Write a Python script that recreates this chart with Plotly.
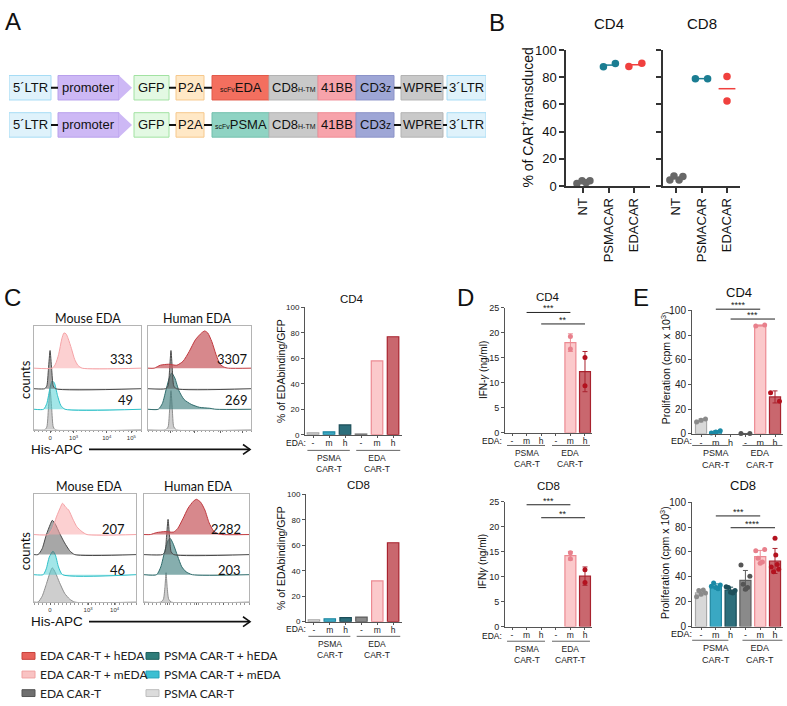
import statistics
import plotly.graph_objects as go

W, H = 787, 706

# ===================== DATA =====================
# Panel A - vector constructs
construct_rows = ["EDA", "PSMA"]
construct_parts = [
    ["5´LTR", "promoter", "GFP", "P2A", "scFv|EDA", "CD8|H-TM", "41BB", "CD3|z", "WPRE", "3´LTR"],
    ["5´LTR", "promoter", "GFP", "P2A", "scFv|PSMA", "CD8|H-TM", "41BB", "CD3|z", "WPRE", "3´LTR"],
]
part_lengths = [42, 61, 35, 28, 57, 49, 38, 38, 42, 39]

# Panel B - % CAR+ / transduced
b_groups = ["NT", "PSMACAR", "EDACAR"]
b_cd4 = [[2.0, 4.0, 2.5, 4.0], [87.8, 90.1], [88.0, 90.4]]
b_cd8 = [[4.5, 7.4, 4.5, 7.0], [79.0, 79.0], [80.6, 62.6]]

# Panel C - flow histograms: (channel 0-100, counts)
hist_cd4_mouse = {
    "EDA CAR-T + mEDA": ([17, 20, 23, 26, 28, 30, 32, 35, 38, 41, 45], [0, 4, 14, 30, 36, 35, 30, 20, 9, 3, 0]),
    "EDA CAR-T": ([10, 12, 13.5, 15, 16.5, 18, 20], [0, 3, 20, 39, 20, 3, 0]),
    "PSMA CAR-T + mEDA": ([9, 12, 15, 17, 19, 22, 25, 29], [0, 6, 22, 29, 27, 14, 4, 0]),
    "PSMA CAR-T": ([10, 12, 13.5, 15, 16.5, 18, 20], [0, 3, 22, 42, 22, 3, 0]),
}
hist_cd4_human = {
    "EDA CAR-T + hEDA": ([6, 12, 20, 28, 34, 40, 46, 52, 55, 58, 62, 66, 70, 74, 78],
                         [0, 3, 4, 3, 7, 17, 29, 36, 38, 36, 27, 14, 4, 1, 0]),
    "EDA CAR-T": ([17, 19.5, 21, 22.3, 23.6, 25, 27.5], [0, 3, 20, 39, 20, 3, 0]),
    "PSMA CAR-T + hEDA": ([10, 14, 18, 21, 23, 26, 30, 35, 42, 50, 60, 66],
                          [0, 6, 22, 33, 37, 32, 19, 10, 5, 2, 1, 0]),
    "PSMA CAR-T": ([17, 19.5, 21, 22.3, 23.6, 25, 27.5], [0, 3, 21, 40, 21, 3, 0]),
}
hist_cd8_mouse = {
    "EDA CAR-T + mEDA": ([14, 18, 22, 26, 28, 31, 34, 38, 42, 47, 52], [0, 6, 18, 28, 32, 28, 25, 16, 8, 3, 0]),
    "EDA CAR-T": ([4, 8, 12, 16, 18, 21, 25, 30, 35, 40], [0, 6, 20, 31, 35, 31, 22, 12, 4, 0]),
    "PSMA CAR-T + mEDA": ([9, 12, 15, 18.6, 21, 24, 28], [0, 6, 18, 24, 20, 8, 0]),
    "PSMA CAR-T": ([4, 8, 12, 16, 18, 21, 25, 30, 35, 40], [0, 6, 18, 31, 35, 30, 20, 9, 3, 0]),
}
hist_cd8_human = {
    "EDA CAR-T + hEDA": ([6, 12, 20, 28, 32, 37, 42, 47, 50, 54, 58, 62, 66, 70, 74],
                         [0, 2, 3, 2.5, 6, 16, 27, 34, 36, 33, 25, 12, 4, 1, 0]),
    "EDA CAR-T": ([17.5, 20, 21.5, 22.9, 24.3, 25.8, 28.3], [0, 3, 19, 36, 19, 3, 0]),
    "PSMA CAR-T + hEDA": ([12, 16, 20, 23, 25, 28, 32, 36, 40, 46], [0, 8, 25, 35, 37, 31, 19, 8, 3, 0]),
    "PSMA CAR-T": ([16, 18.5, 20, 21, 22, 23.5, 26], [0, 3, 16, 30, 16, 3, 0]),
}
mfi_cd4_mouse = ["333", "49"]
mfi_cd4_human = ["3307", "269"]
mfi_cd8_mouse = ["207", "46"]
mfi_cd8_human = ["2282", "203"]

# Panel C - bars (% of EDA binding / GFP)
cond_names = ["PSMA CAR-T", "PSMA CAR-T + mEDA", "PSMA CAR-T + hEDA",
              "EDA CAR-T", "EDA CAR-T + mEDA", "EDA CAR-T + hEDA"]
eda_ticks = ["-", "m", "h", "-", "m", "h"]
c_cd4 = [1.5, 2.3, 7.7, 0.4, 58.0, 77.0]
c_cd8 = [1.5, 2.3, 3.1, 3.6, 32.0, 62.0]

# Legend layout (two columns, as in the figure)
legend_col1 = ["EDA CAR-T + hEDA", "EDA CAR-T + mEDA", "EDA CAR-T"]
legend_col2 = ["PSMA CAR-T + hEDA", "PSMA CAR-T + mEDA", "PSMA CAR-T"]

# Panel D - IFN-gamma (ng/ml), replicate values
d_cd4 = [[], [], [], [], [19.3, 16.8], [15.1, 9.4]]
d_cd8 = [[], [], [], [], [14.8, 13.6], [11.4, 8.8]]
d_sig_cd4 = [(1, 4, "***", 24.1), (2, 5, "**", 21.8)]
d_sig_cd8 = [(1, 4, "***", 24.4), (2, 5, "**", 21.8)]

# Panel E - proliferation (cpm x 10^3), replicate values
e_cd4 = [[9.5, 11.0, 12.0], [0.5, 1.5, 2.5], [], [0.2, 0.2], [87.4, 88.1], [33.3, 26.4]]
e_cd8 = [[24, 27, 29, 29.5, 26], [32.5, 33.5, 35, 30.5, 31.5], [32, 29, 31.5, 27, 27.5],
         [49.5, 40.5, 34, 31.5, 30], [61, 62, 55, 52, 51], [71, 57.5, 48, 46, 44, 50]]
e_sig_cd4 = [(1, 4, "****", 101.0), (2, 5, "***", 93.0)]
e_sig_cd8 = [(1, 4, "***", 89.0), (2, 5, "****", 79.5)]

# ===================== STYLE / HELPERS =====================
ARIAL = "Liberation Sans"
CAL = "Lato"
AX = "#555555"

PART_FILL = ["#dff2fb", "#cdb8f5", "#e3f9e3", "#ffe8c6", None, "#c9c9c9", "#f7a3ab", "#9ea6d6", "#c9c9c9", "#dff2fb"]
PART_LINE = ["#a6dcf5", "#b8a0ec", "#a2e2a2", "#f6c88c", None, "#b3b3b3", "#ef8d97", "#8c93c8", "#b3b3b3", "#a6dcf5"]
SCFV_STYLE = {"EDA": ("#f36f5f", "#e25a4a"), "PSMA": ("#8fd3c3", "#72c0ad")}

COND_STYLE = {  # fill, border, points
    "PSMA CAR-T": ("#d8d8d8", "#a8a8a8", "#8a8a8a"),
    "PSMA CAR-T + mEDA": ("#3aa8c3", "#1e86a0", "#1a8aa6"),
    "PSMA CAR-T + hEDA": ("#2d6e7b", "#1b4d58", "#1e4f5a"),
    "EDA CAR-T": ("#8a8a8a", "#5e5e5e", "#555555"),
    "EDA CAR-T + mEDA": ("#fbc9cb", "#ec8a92", "#e8808c"),
    "EDA CAR-T + hEDA": ("#c9676e", "#a8222e", "#b3121f"),
}
LEGEND_STYLE = {  # swatch fill, border
    "EDA CAR-T + hEDA": ("#e8625b", "#c8423c"),
    "EDA CAR-T + mEDA": ("#f9c3c3", "#f0a0a0"),
    "EDA CAR-T": ("#6f6f6f", "#555555"),
    "PSMA CAR-T + hEDA": ("#2f7d7a", "#1f5f5c"),
    "PSMA CAR-T + mEDA": ("#3cbfd2", "#22a3b8"),
    "PSMA CAR-T": ("#dcdcdc", "#bdbdbd"),
}
HIST_STYLE = {
    "EDA CAR-T + mEDA": ("rgba(250,170,172,0.55)", "#f5a3a7"),
    "EDA CAR-T + hEDA": ("rgba(200,90,95,0.72)", "#c0393f"),
    "EDA CAR-T": ("rgba(95,95,95,0.55)", "#4a4a4a"),
    "PSMA CAR-T + mEDA": ("rgba(70,205,210,0.5)", "#2fc0c8"),
    "PSMA CAR-T + hEDA": ("rgba(60,125,125,0.62)", "#2f6c6c"),
    "PSMA CAR-T": ("rgba(165,165,165,0.55)", "#8e8e8e"),
}
B_COL = ["#676767", "#1b7d92", "#f0403e"]

fig = go.Figure()
L = {}
annotations = []
shapes = []


def px(x):
    return x / W


def py(y):
    return 1 - y / H


def make_axes(n, x0, x1, y0, y1, xr, yr, xkw=None, ykw=None):
    sfx = "" if n == 1 else str(n)
    xa = dict(domain=[px(x0), px(x1)], range=xr, anchor="y" + sfx, showgrid=False, zeroline=False)
    ya = dict(domain=[py(y1), py(y0)], range=yr, anchor="x" + sfx, showgrid=False, zeroline=False)
    xa.update(xkw or {})
    ya.update(ykw or {})
    L["xaxis" + sfx] = xa
    L["yaxis" + sfx] = ya
    return "x" + sfx, "y" + sfx


def ann(xp, yp, text, size, family=ARIAL, angle=0, xanchor="center", yanchor="middle", color="#111"):
    annotations.append(dict(x=px(xp), y=py(yp), xref="paper", yref="paper", text=text, showarrow=False,
                            font=dict(family=family, size=size, color=color), textangle=angle,
                            xanchor=xanchor, yanchor=yanchor, borderpad=0))


def fmt(name):
    if "|" not in name:
        return name
    a, b = name.split("|")
    if a == "scFv":
        return f'<span style="font-size:7px">{a}</span>{b}'
    small = 7 if b == "H-TM" else 10
    return f'{a}<span style="font-size:{small}px">{b}</span>'


# ===================== PANEL A =====================
gaps_after = [7, 15, 7, 8, 0, 0, 0, 7, 4]
arrow_len = 13
total = sum(part_lengths) + sum(gaps_after)
xa, ya = make_axes(1, 9, 9 + total, 60, 145, [0, total], [1.645, -0.592],
                   xkw=dict(visible=False), ykw=dict(visible=False))
hh = 0.329
for r, (row, parts) in enumerate(zip(construct_rows, construct_parts)):
    x = 0
    for i, (name, ln) in enumerate(zip(parts, part_lengths)):
        fill, line = (PART_FILL[i], PART_LINE[i]) if PART_FILL[i] else SCFV_STYLE[row]
        fig.add_trace(go.Bar(x=[ln], base=[x], y=[r], orientation="h", width=2 * hh,
                             marker=dict(color=fill, line=dict(color=line, width=1)),
                             xaxis=xa, yaxis=ya, showlegend=False, hoverinfo="skip"))
        annotations.append(dict(x=x + ln / 2, y=r, xref=xa, yref=ya, text=fmt(name), showarrow=False,
                                font=dict(family=ARIAL, size=13, color="#111")))
        x += ln
        if i < len(gaps_after):
            g = gaps_after[i]
            if i == 1:
                fig.add_trace(go.Scatter(x=[x, x + arrow_len, x, x], y=[r - hh, r, r + hh, r - hh],
                                         fill="toself", fillcolor=PART_FILL[1], mode="lines",
                                         line=dict(width=0, color=PART_FILL[1]),
                                         xaxis=xa, yaxis=ya, showlegend=False, hoverinfo="skip"))
            elif g > 0:
                fig.add_trace(go.Scatter(x=[x, x + g], y=[r, r], mode="lines",
                                         line=dict(color="#111", width=2),
                                         xaxis=xa, yaxis=ya, showlegend=False, hoverinfo="skip"))
            x += g

# ===================== PANEL B =====================
b_offsets_cd4 = [[-0.24, -0.04, 0.12, 0.27], [-0.2, 0.27], [-0.2, 0.31]]
b_offsets_cd8 = [[-0.24, -0.08, 0.12, 0.27], [-0.24, 0.24], [0.0, 0.0]]
b_specs = [(2, 566, 650, [-0.67, 2.63], b_cd4, b_offsets_cd4, True, "CD4", 609),
           (3, 663, 740, [-0.51, 2.51], b_cd8, b_offsets_cd8, False, "CD8", 702)]
for n, x0, x1, xr, vals, offs, labels, title, tx in b_specs:
    axkw = dict(showline=True, linecolor="#333", linewidth=1.5, ticks="outside", ticklen=5,
                tickwidth=1.5, tickcolor="#333", tickfont=dict(family=ARIAL, size=13, color="#111"))
    xid, yid = make_axes(n, x0, x1, 44, 183, xr, [0, 100],
                         xkw=dict(axkw, tickvals=[0, 1, 2], ticktext=b_groups, tickangle=-90),
                         ykw=dict(axkw, tickvals=[0, 20, 40, 60, 80, 100], showticklabels=labels))
    for g, (pts, of) in enumerate(zip(vals, offs)):
        med = statistics.median(pts)
        half = 0.33 if max(of) - min(of) < 0.1 else 0.25
        fig.add_trace(go.Scatter(x=[g - half, g + half], y=[med, med], mode="lines",
                                 line=dict(color=B_COL[g], width=1.5), xaxis=xid, yaxis=yid,
                                 showlegend=False, hoverinfo="skip", cliponaxis=False))
        fig.add_trace(go.Scatter(x=[g + o for o in of], y=pts, mode="markers",
                                 marker=dict(size=7.5, color=B_COL[g]), xaxis=xid, yaxis=yid,
                                 showlegend=False, hoverinfo="skip", cliponaxis=False))
    ann(tx, 17, title, 15)
ann(527, 113, "% of CAR<sup>+</sup>/transduced", 14, angle=-90)

# ===================== PANEL C: histograms =====================
sup = lambda k: f"10<sup>{k}</sup>"
hist_specs = [
    (4, 34, 141, 326, 432, 106, [63, 42, 21, 0], hist_cd4_mouse, [15, 37, 68, 91], ["0", sup(3), sup(4), sup(5)],
     mfi_cd4_mouse, 94.4, [72, 30], "Mouse EDA", 88, 318),
    (5, 148, 251, 326, 432, 106, [63, 42, 21, 0], hist_cd4_human, [22, 45, 70, 92], None,
     mfi_cd4_human, 99.5, [72, 30], "Human EDA", 197, 318),
    (6, 34, 136, 498, 608, 110, [69, 48.5, 28, 0], hist_cd8_mouse, [15.7, 53, 79], ["0", sup(3), sup(4)],
     mfi_cd8_mouse, 91, [75, 33], "Mouse EDA", 89, 490),
    (7, 144, 249, 498, 608, 110, [69, 48.5, 28, 0], hist_cd8_human, [22, 50, 76], None,
     mfi_cd8_human, 94.3, [75, 33], "Human EDA", 199, 490),
]
for (n, x0, x1, y0, y1, ytop, bases, curves, tv, tt, mfi, mx, my, title, tx, ty) in hist_specs:
    xkw = dict(showline=True, mirror=True, linecolor="#b4b4b4", linewidth=1, ticks="outside", ticklen=2,
               tickcolor="#666", tickvals=tv, ticktext=tt if tt else [""] * len(tv),
               tickfont=dict(family=ARIAL, size=6, color="#333"),
               minor=dict(ticks="outside", ticklen=1.5, tick0=0, dtick=4, tickcolor="#999"))
    xid, yid = make_axes(n, x0, x1, y0, y1, [0, 100], [0, ytop], xkw=xkw,
                         ykw=dict(showline=True, mirror=True, linecolor="#b4b4b4", linewidth=1,
                                  showticklabels=False, ticks=""))
    names = list(curves.keys())
    for name, base in reversed(list(zip(names, bases))):
        xs, hs = curves[name]
        fill, line = HIST_STYLE[name]
        fig.add_trace(go.Scatter(x=[0] + xs + [100], y=[base] + [base + h for h in hs] + [base],
                                 mode="lines", fill="toself", fillcolor=fill,
                                 line=dict(color=line, width=1, shape="spline", smoothing=0.6),
                                 xaxis=xid, yaxis=yid, showlegend=False, hoverinfo="skip"))
    for val, yy in zip(mfi, my):
        annotations.append(dict(x=mx, y=yy, xref=xid, yref=yid, text=val, showarrow=False,
                                xanchor="right", yanchor="middle",
                                font=dict(family=CAL, size=13, color="#111")))
    ann(tx, ty, title, 12.5, family=CAL)

# page-wide overlay axis (pixel units) for the His-APC arrows and the legend
ox, oy = make_axes(14, 0, W, 0, H, [0, W], [H, 0], xkw=dict(visible=False), ykw=dict(visible=False))
for cy, ay in [(381, 452), (556, 628)]:
    ann(25, cy, "counts", 13, family=CAL, angle=-90)
    ann(57, ay, "His-APC", 13.5)
    fig.add_trace(go.Scatter(x=[89, 250], y=[ay, ay], mode="lines", line=dict(color="#111", width=1.6),
                             xaxis=ox, yaxis=oy, showlegend=False, hoverinfo="skip", cliponaxis=False))
    fig.add_trace(go.Scatter(x=[243, 250, 243], y=[ay - 5, ay, ay + 5], mode="lines",
                             line=dict(color="#111", width=1.6),
                             xaxis=ox, yaxis=oy, showlegend=False, hoverinfo="skip", cliponaxis=False))

# legend drawn as swatches + labels
for col_x, col in [(22, legend_col1), (146, legend_col2)]:
    for k, name in enumerate(col):
        yy = 663 + 19 * k
        f, l = LEGEND_STYLE[name]
        fig.add_trace(go.Bar(x=[13], base=[col_x], y=[yy], orientation="h", width=7,
                             marker=dict(color=f, line=dict(color=l, width=1)),
                             xaxis=ox, yaxis=oy, showlegend=False, hoverinfo="skip"))
        ann(col_x + 17, yy, name, 12, family=CAL, xanchor="left", color="#222")


# ===================== bar-chart helper (C, D, E) =====================
def cat_axes(n, x0, x1, y0, y1, xr, yr, ytick, yfont, tfont=8.5):
    axkw = dict(showline=True, linecolor=AX, linewidth=1, ticks="outside", tickcolor=AX)
    return make_axes(n, x0, x1, y0, y1, xr, yr,
                     xkw=dict(axkw, ticklen=2, tickvals=list(range(6)), ticktext=eda_ticks,
                              ticklabelstandoff=-2,
                              tickfont=dict(family=ARIAL, size=tfont, color="#222")),
                     ykw=dict(axkw, ticklen=3, tickvals=ytick,
                              tickfont=dict(family=ARIAL, size=yfont, color="#222")))


def groups(xid, eda_x, eda_y, ul_y, spans, labels, fs=8.5):
    ann(eda_x, eda_y, "EDA:", fs, xanchor="right")
    for (a, b), c, lab in zip(spans, [1, 4], labels):
        shapes.append(dict(type="line", xref=xid, yref="paper", x0=a, x1=b, y0=py(ul_y), y1=py(ul_y),
                           line=dict(color="#666", width=1)))
        annotations.append(dict(x=c, y=py(ul_y + 1.5), xref=xid, yref="paper", text=lab, showarrow=False,
                                yanchor="top", borderpad=0,
                                font=dict(family=ARIAL, size=fs, color="#222"), align="center"))


def sig(xid, yid, ymax, specs, fs=9):
    # significance brackets; y given in data units, mapped via the axis domain so nothing is clipped
    for a, b, stars, yv in specs:
        yd = yv / ymax
        shapes.append(dict(type="line", xref=xid, yref=yid + " domain", x0=a, x1=b, y0=yd, y1=yd,
                           line=dict(color="#222", width=1)))
        annotations.append(dict(x=(a + b) / 2, y=yd, xref=xid, yref=yid + " domain", text=stars,
                                showarrow=False, yanchor="bottom", yshift=-3,
                                font=dict(family=ARIAL, size=fs, color="#222")))


# ===================== PANEL C: bars =====================
c_specs = [(8, 305, 402, 307, 437, c_cd4, "CD4", 352, 298, 445, 453, 372),
           (9, 306, 402, 498, 628, c_cd8, "CD8", 358, 488, 635, 643, 563)]
for (n, x0, x1, y0, y1, vals, title, tx, ty, ey, uy, yt) in c_specs:
    xid, yid = cat_axes(n, x0, x1, y0, y1, [-0.5, 5.56], [0, 100], [0, 20, 40, 60, 80, 100], 8)
    for i, (name, v) in enumerate(zip(cond_names, vals)):
        f, l, p = COND_STYLE[name]
        fig.add_trace(go.Bar(x=[i], y=[v], width=0.72, name=name,
                             marker=dict(color=f, line=dict(color=l, width=1.2)),
                             xaxis=xid, yaxis=yid, hoverinfo="skip", showlegend=False))
    ann(tx, ty, title, 11.5)
    ann(281, yt, "% of EDAbinding/GFP", 10.5, angle=-90)
    groups(xid, 307, ey, uy, [(-0.35, 2.3), (2.7, 5.45)], ["PSMA<br>CAR-T", "EDA<br>CAR-T"])


# ===================== PANELS D & E =====================
def replicate_bars(xid, yid, data, offsets_fn, psize=5):
    for i, (name, pts) in enumerate(zip(cond_names, data)):
        if not pts:
            continue
        f, l, p = COND_STYLE[name]
        m = statistics.mean(pts)
        sd = statistics.stdev(pts) if len(pts) > 1 else 0
        fig.add_trace(go.Bar(x=[i], y=[m], width=0.75, marker=dict(color=f, line=dict(color=l, width=1.2)),
                             error_y=dict(type="data", array=[sd], color=l, thickness=1, width=2.5),
                             xaxis=xid, yaxis=yid, showlegend=False, hoverinfo="skip"))
        offs = offsets_fn(len(pts))
        fig.add_trace(go.Scatter(x=[i + o for o in offs], y=pts, mode="markers",
                                 marker=dict(size=psize, color=p), xaxis=xid, yaxis=yid,
                                 showlegend=False, hoverinfo="skip", cliponaxis=False))


def no_jitter(k):
    return [0.0] * k


E_JIT = {2: [-0.3, 0.3], 3: [-0.3, 0.0, 0.3], 5: [-0.3, 0.3, -0.15, 0.15, 0.0],
         6: [0.0, 0.05, -0.25, 0.25, -0.1, 0.15]}


def e_jitter(k):
    return E_JIT.get(k, [0.0] * k)


d_specs = [(10, 307.5, 435, d_cd4, d_sig_cd4, "CD4", 296, 443, 448, 371, "IFN-<i>γ</i> (ng/ml)",
            ["PSMA<br>CAR-T", "EDA<br>CAR-T"]),
           (11, 505.5, 633, d_cd8, d_sig_cd8, "CD8", 489, 643, 648, 567, "IFN<i>γ</i> (ng/ml)",
            ["PSMA<br>CAR-T", "EDA<br>CART-T"])]
for (n, y0, y1, data, sg, title, ty, ey, uy, yt, ytitle, glabs) in d_specs:
    xid, yid = cat_axes(n, 505, 592, y0, y1, [-0.48, 5.48], [0, 25], [0, 5, 10, 15, 20, 25], 9)
    replicate_bars(xid, yid, data, no_jitter)
    sig(xid, yid, 25, sg)
    ann(548, ty, title, 11.5)
    ann(483, yt, ytitle, 10, angle=-90)
    groups(xid, 503, ey, uy, [(-0.34, 2.26), (2.74, 5.34)], glabs)

e_specs = [(12, 310, 436, e_cd4, e_sig_cd4, "CD4", 739, 292, 443, 448, 369),
           (13, 506, 633, e_cd8, e_sig_cd8, "CD8", 743, 489, 641, 647, 568)]
for (n, y0, y1, data, sg, title, tx, ty, ey, uy, yt) in e_specs:
    xid, yid = cat_axes(n, 692, 783, y0, y1, [-0.61, 5.54], [0, 100], [0, 20, 40, 60, 80, 100], 10, 9)
    replicate_bars(xid, yid, data, e_jitter)
    sig(xid, yid, 100, sg)
    ann(tx, ty, title, 13)
    ann(665, yt, "Proliferation (cpm x 10<sup>3</sup>)", 10.5, angle=-90)
    groups(xid, 693, ey, uy, [(-0.6, 1.85), (2.8, 5.5)], ["PSMA<br>CAR-T", "EDA<br>CAR-T"], fs=9)

# ===================== panel letters =====================
for letter, lx, ly in [("A", 13, 15), ("B", 497, 16), ("C", 12, 297), ("D", 465, 297), ("E", 641, 297)]:
    ann(lx, ly, letter, 24)

fig.update_layout(
    width=W, height=H, margin=dict(l=0, r=0, t=0, b=0),
    paper_bgcolor="white", plot_bgcolor="rgba(0,0,0,0)",
    barmode="overlay", showlegend=False,
    annotations=annotations, shapes=shapes,
    **L,
)
fig.write_html("out.html", config={"displayModeBar": False},
               post_script="document.body.style.margin='0';document.body.style.overflow='hidden';")
